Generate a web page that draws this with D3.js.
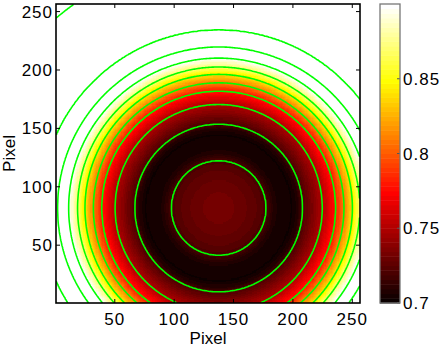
<!DOCTYPE html>
<html><head><meta charset="utf-8">
<script src="https://cdn.jsdelivr.net/npm/d3@7"></script>
<style>
html,body{margin:0;padding:0;background:#fff;}
svg{display:block;font-family:"Liberation Sans",Arial,sans-serif;}
</style></head>
<body><svg id="chart" width="443" height="350"></svg>
<script>
// ---- data ----
const gridSize = 256;                       // image is 256 x 256 pixels
const center = [137.5, 81.8];               // centre of the radial pattern (pixel units)
const yStretch = 0.984;                     // pattern is very slightly elliptical
const profileRadius = [0, 15, 30, 40, 45, 51, 62, 67, 70.5, 79, 87.3, 98.5, 105.5, 112.6, 118.8, 126.3, 135.6, 149.9, 210.5, 230];
const profileValue  = [0.733, 0.731, 0.726, 0.72, 0.71, 0.704, 0.703, 0.709, 0.72, 0.735, 0.75, 0.78, 0.81, 0.84, 0.87, 0.90, 0.93, 0.96, 0.99, 0.995];
const contourLevels = [0.72, 0.75, 0.78, 0.81, 0.84, 0.87, 0.90, 0.93, 0.96, 0.99];
const colorLimits = [0.7, 0.9];
const xTicks = [50, 100, 150, 200, 250];
const yTicks = [50, 100, 150, 200, 250];
const cbTicks = [0.7, 0.75, 0.8, 0.85];
const cbTickLabels = ["0.7", "0.75", "0.8", "0.85"];
const xLabel = "Pixel", yLabel = "Pixel";

// ---- layout ----
const svg = d3.select("#chart");
const plot = {l: 56, r: 360, t: 4, b: 303};
const cb = {l: 380, r: 400, t: 4, b: 303};
const x = d3.scaleLinear().domain([0.5, gridSize + 0.5]).range([plot.l, plot.r]);
const y = d3.scaleLinear().domain([0.5, gridSize + 0.5]).range([plot.b, plot.t]);
const cy = d3.scaleLinear().domain(colorLimits).range([cb.b, cb.t]);
const profile = d3.scaleLinear().domain(profileRadius).range(profileValue).clamp(true);

// MATLAB "hot" colormap, 64 entries
const NC = 64;
function hot(i) {
  const r = i < 24 ? (i + 1) / 24 : 1;
  const g = i < 24 ? 0 : (i < 48 ? (i - 23) / 24 : 1);
  const b = i < 48 ? 0 : (i - 47) / 16;
  return [Math.round(r * 255), Math.round(g * 255), Math.round(b * 255)];
}
function cindex(v) {
  return Math.max(0, Math.min(NC - 1, Math.floor((v - colorLimits[0]) / (colorLimits[1] - colorLimits[0]) * NC)));
}

// ---- grid values ----
const values = new Float64Array(gridSize * gridSize);
for (let k = 0; k < gridSize; k++) {
  for (let i = 0; i < gridSize; i++) {
    const dx = (i + 1) - center[0], dy = ((k + 1) - center[1]) * yStretch;
    values[k * gridSize + i] = profile(Math.sqrt(dx * dx + dy * dy));
  }
}

// ---- image ----
const canvas = document.createElement("canvas");
canvas.width = gridSize; canvas.height = gridSize;
const ctx = canvas.getContext("2d");
const img = ctx.createImageData(gridSize, gridSize);
for (let k = 0; k < gridSize; k++) {
  const row = gridSize - 1 - k;
  for (let i = 0; i < gridSize; i++) {
    const c = hot(cindex(values[k * gridSize + i]));
    const p = (row * gridSize + i) * 4;
    img.data[p] = c[0]; img.data[p + 1] = c[1]; img.data[p + 2] = c[2]; img.data[p + 3] = 255;
  }
}
ctx.putImageData(img, 0, 0);

svg.append("defs").append("clipPath").attr("id", "clip")
  .append("rect").attr("x", plot.l).attr("y", plot.t)
  .attr("width", plot.r - plot.l).attr("height", plot.b - plot.t);

svg.append("image")
  .attr("href", canvas.toDataURL())
  .attr("x", x(0.5)).attr("y", y(gridSize + 0.5))
  .attr("width", x(gridSize + 0.5) - x(0.5))
  .attr("height", y(0.5) - y(gridSize + 0.5))
  .attr("preserveAspectRatio", "none")
  .style("image-rendering", "pixelated");

// ---- contours ----
const contours = d3.contours().size([gridSize, gridSize]).thresholds(contourLevels)(Array.from(values));
function onSameBorder(a, b) {
  return (a[0] === 0 && b[0] === 0) || (a[0] === gridSize && b[0] === gridSize) ||
         (a[1] === 0 && b[1] === 0) || (a[1] === gridSize && b[1] === gridSize);
}
const px = p => x(p[0] + 0.5), py = p => y(p[1] + 0.5);
let pathStr = "";
contours.forEach(c => {
  c.coordinates.forEach(poly => poly.forEach(ring => {
    let penDown = false;
    for (let j = 0; j < ring.length - 1; j++) {
      const a = ring[j], b = ring[j + 1];
      if (onSameBorder(a, b)) { penDown = false; continue; }
      if (!penDown) { pathStr += "M" + px(a).toFixed(2) + "," + py(a).toFixed(2); penDown = true; }
      pathStr += "L" + px(b).toFixed(2) + "," + py(b).toFixed(2);
    }
  }));
});
svg.append("path").attr("d", pathStr).attr("clip-path", "url(#clip)")
  .attr("fill", "none").attr("stroke", "#00ff00").attr("stroke-width", 1.6)
  .attr("stroke-linejoin", "round");

// ---- axes (ticks inward, MATLAB style) ----
const tickLen = 4;
const ax = svg.append("g").attr("stroke", "#000").attr("stroke-width", 1);
xTicks.forEach(t => {
  ax.append("line").attr("x1", x(t)).attr("x2", x(t)).attr("y1", plot.b).attr("y2", plot.b - tickLen);
  ax.append("line").attr("x1", x(t)).attr("x2", x(t)).attr("y1", plot.t).attr("y2", plot.t + tickLen);
});
yTicks.forEach(t => {
  ax.append("line").attr("y1", y(t)).attr("y2", y(t)).attr("x1", plot.l).attr("x2", plot.l + tickLen);
  ax.append("line").attr("y1", y(t)).attr("y2", y(t)).attr("x1", plot.r).attr("x2", plot.r - tickLen);
});
svg.append("rect").attr("x", plot.l).attr("y", plot.t)
  .attr("width", plot.r - plot.l).attr("height", plot.b - plot.t)
  .attr("fill", "none").attr("stroke", "#000").attr("stroke-width", 1.6);

const fs = 17;
svg.append("g").selectAll("text").data(xTicks).join("text")
  .attr("x", d => x(d)).attr("y", 325).attr("text-anchor", "middle")
  .attr("font-size", fs).attr("letter-spacing", 1).attr("fill", "#000").text(d => d);
svg.append("g").selectAll("text").data(yTicks).join("text")
  .attr("x", 53).attr("y", d => y(d) + 6).attr("text-anchor", "end")
  .attr("font-size", fs).attr("letter-spacing", 1).attr("fill", "#000").text(d => d);
svg.append("text").attr("x", (plot.l + plot.r) / 2).attr("y", 344)
  .attr("text-anchor", "middle").attr("font-size", fs).attr("fill", "#000").text(xLabel);
svg.append("text").attr("transform", `translate(15,${(plot.t + plot.b) / 2}) rotate(-90)`)
  .attr("text-anchor", "middle").attr("font-size", fs).attr("fill", "#000").text(yLabel);

// ---- colorbar ----
const cbg = svg.append("g");
d3.range(NC).forEach(i => {
  const v0 = colorLimits[0] + (colorLimits[1] - colorLimits[0]) * i / NC;
  const v1 = colorLimits[0] + (colorLimits[1] - colorLimits[0]) * (i + 1) / NC;
  const c = hot(i);
  cbg.append("rect").attr("x", cb.l).attr("width", cb.r - cb.l)
    .attr("y", cy(v1)).attr("height", cy(v0) - cy(v1) + 0.5)
    .attr("fill", `rgb(${c[0]},${c[1]},${c[2]})`);
});
cbTicks.forEach(t => {
  cbg.append("line").attr("x1", cb.r).attr("x2", cb.r - 3).attr("y1", cy(t)).attr("y2", cy(t))
    .attr("stroke", "#555").attr("stroke-width", 1);
});
cbg.append("rect").attr("x", cb.l).attr("y", cb.t).attr("width", cb.r - cb.l).attr("height", cb.b - cb.t)
  .attr("fill", "none").attr("stroke", "#777").attr("stroke-width", 1.3);
cbg.selectAll("text.cbl").data(cbTicks).join("text").attr("class", "cbl")
  .attr("x", 403).attr("y", d => cy(d) + 6).attr("font-size", fs).attr("letter-spacing", 1).attr("fill", "#000")
  .text((d, i) => cbTickLabels[i]);
</script></body></html>
